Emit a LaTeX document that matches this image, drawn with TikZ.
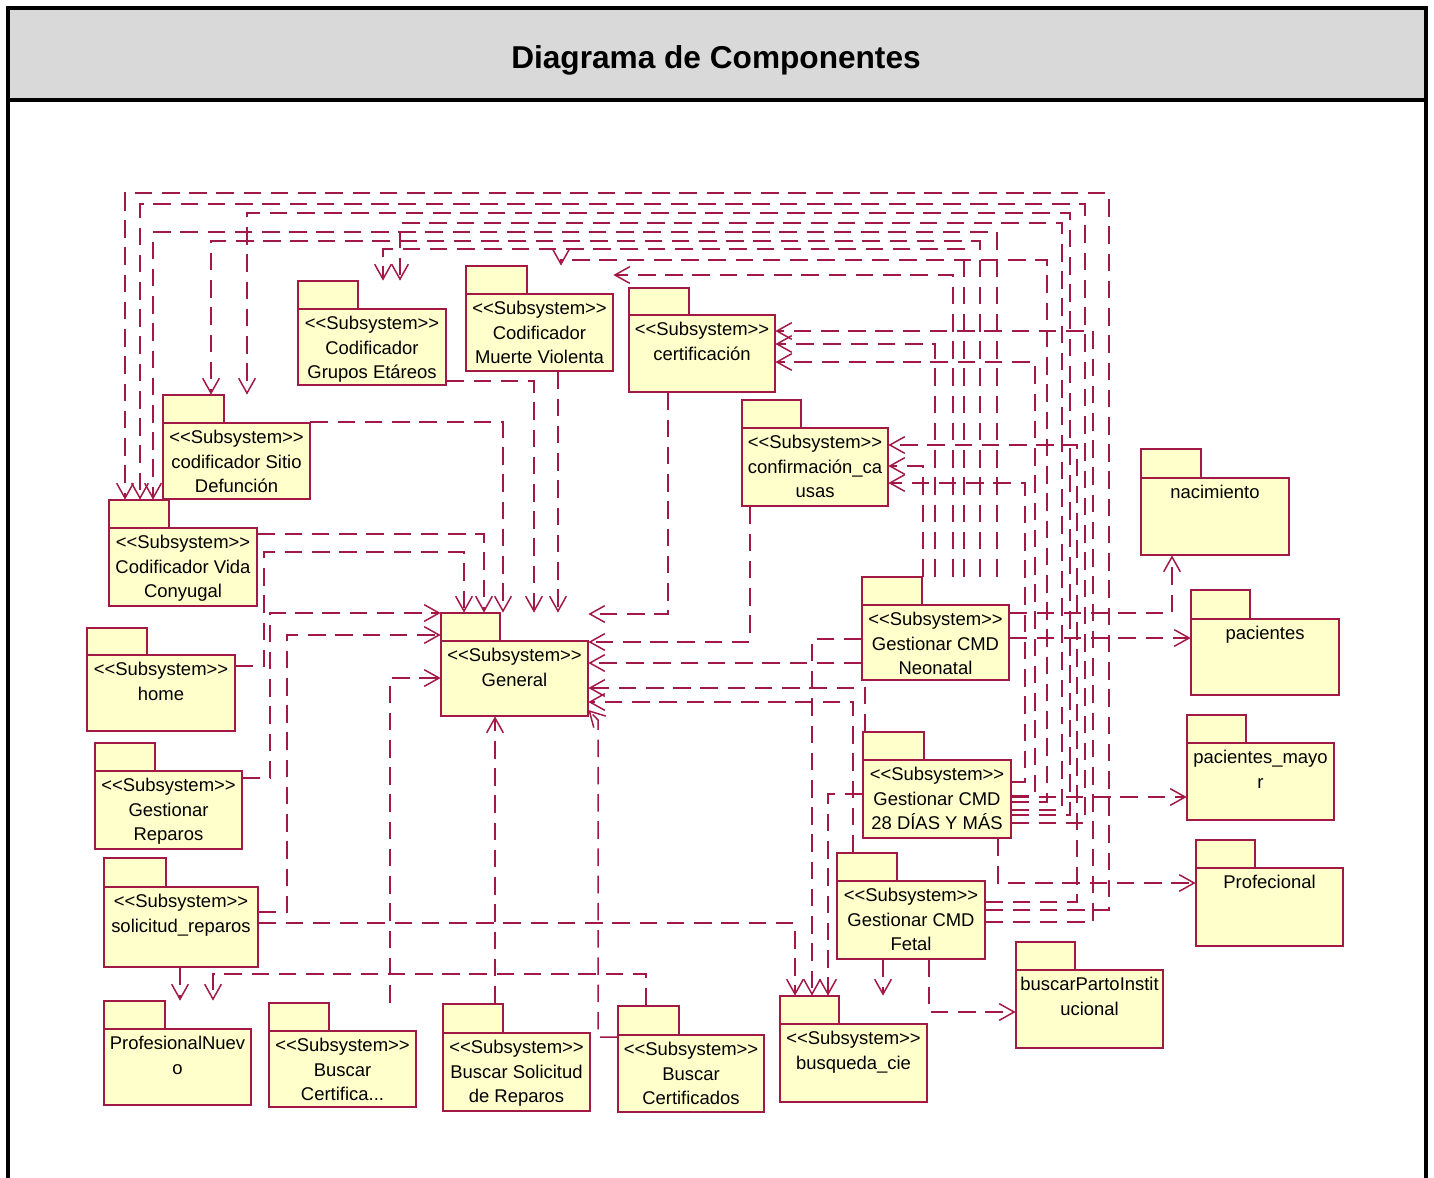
\documentclass[tikz,border=0pt]{standalone}
\usepackage{fontspec}
\setmainfont{Liberation Sans}[Ligatures=TeXOff]
\usetikzlibrary{arrows.meta,fit}
\definecolor{rline}{RGB}{163,25,70}
\definecolor{pfill}{RGB}{255,255,204}
\definecolor{hdr}{RGB}{217,217,217}
\newcommand\pkg[8]{%
  \node[fit={(#2,#3)(#6,#7)}, inner sep=0pt] (#1) {};
  \draw[pkline] (#2,#5) rectangle (#4,#3);
  \draw[pkline] (#2,#5) rectangle (#6,#7);
  \node[pktext] (#1-t) at ({(#2+#6)/2},#5) {#8};
}
\begin{document}
\begin{tikzpicture}[x=0.02cm,y=-0.02cm,
  pkline/.style={draw=rline, fill=pfill, line width=0.9pt},
  pktext/.style={anchor=north, align=center, inner xsep=0pt, inner ysep=4pt, font=\fontsize{10.5}{13.9}\selectfont, text=black},
  dep/.style={draw=rline, line width=0.85pt, dash pattern=on 10pt off 5.5pt, -{Straight Barb[length=8.5pt,width=9.5pt]}}]
\useasboundingbox (0,0) rectangle (1434,1177);
\fill[hdr] (8,8) rectangle (1426,100);
\draw[line width=1.8pt] (8,1200) -- (8,8) -- (1426,8) -- (1426,1200);
\draw[line width=1.8pt] (8,100) -- (1426,100);
\node[font=\fontsize{18}{20}\selectfont\bfseries] (title) at (716,60) {Diagrama de Componentes};

% packages
\pkg{gre}{298}{281}{358}{309}{446}{385}{<<Subsystem>>\\Codificador\\Grupos Etáreos}
\pkg{mv}{466}{266}{527}{294}{613}{371}{<<Subsystem>>\\Codificador\\Muerte Violenta}
\pkg{cert}{629}{288}{689}{315}{775}{392}{<<Subsystem>>\\certificación}
\pkg{conf}{742}{400}{801}{428}{888}{506}{<<Subsystem>>\\confirmación\_ca\\usas}
\pkg{sitio}{163}{395}{224}{423}{310}{499}{<<Subsystem>>\\codificador Sitio\\Defunción}
\pkg{vida}{109}{500}{169}{528}{257}{606}{<<Subsystem>>\\Codificador Vida\\Conyugal}
\pkg{home}{87}{628}{147}{655}{235}{731}{<<Subsystem>>\\home}
\pkg{grep}{95}{743}{155}{771}{242}{849}{<<Subsystem>>\\Gestionar\\Reparos}
\pkg{sol}{104}{858}{166}{887}{258}{967}{<<Subsystem>>\\solicitud\_reparos}
\pkg{prof}{104}{1001}{165}{1029}{251}{1105}{ProfesionalNuev\\o}
\pkg{bcert}{269}{1003}{329}{1031}{416}{1107}{<<Subsystem>>\\Buscar\\Certifica...}
\pkg{bsol}{443}{1004}{503}{1033}{590}{1111}{<<Subsystem>>\\Buscar Solicitud\\de Reparos}
\pkg{bcerts}{618}{1006}{679}{1035}{764}{1112}{<<Subsystem>>\\Buscar\\Certificados}
\pkg{bcie}{780}{996}{839}{1024}{927}{1102}{<<Subsystem>>\\busqueda\_cie}
\pkg{fetal}{837}{853}{897}{881}{985}{959}{<<Subsystem>>\\Gestionar CMD\\Fetal}
\pkg{parto}{1016}{942}{1075}{970}{1163}{1048}{buscarPartoInstit\\ucional}
\pkg{neo}{862}{577}{922}{605}{1009}{680}{<<Subsystem>>\\Gestionar CMD\\Neonatal}
\pkg{dcm}{863}{732}{924}{760}{1011}{838}{<<Subsystem>>\\Gestionar CMD\\28 DÍAS Y MÁS}
\pkg{nac}{1141}{449}{1201}{478}{1289}{555}{nacimiento}
\pkg{pac}{1191}{590}{1250}{619}{1339}{695}{pacientes}
\pkg{pacm}{1187}{715}{1246}{743}{1334}{820}{pacientes\_mayo\\r}
\pkg{profe}{1196}{840}{1255}{868}{1343}{946}{Profecional}
\pkg{gen}{441}{613}{500}{641}{588}{716}{<<Subsystem>>\\General}

% top bus
\draw[dep] (fetal.east |- 0,910) -- (1109,910) -- (1109,193) -- (125,193) -- (vida.north -| 125,0);
\draw[dep] (dcm.east |- 0,823) -- (1085,823) -- (1085,204) -- (140,204) -- (vida.north -| 140,0);
\draw[dep] (neo.north -| 997,0) -- (997,232) -- (153,232) -- (vida.north -| 153,0);
\draw[dep] (neo.north -| 980,0) -- (980,241) -- (211,241) -- (sitio.north -| 211,0);
\draw[dep] (dcm.east |- 0,815) -- (1070,815) -- (1070,213) -- (247,213) -- (sitio.north -| 247,0);
\draw[dep] (neo.north -| 964,0) -- (964,249) -- (383,249) -- (gre.north -| 383,0);
\draw[dep] (dcm.east |- 0,810) -- (1062,810) -- (1062,223) -- (400,223) -- (gre.north -| 400,0);
\draw[dep] (dcm.east |- 0,802) -- (1047,802) -- (1047,260) -- (561,260) -- (mv.north -| 561,0);
\draw[dep] (neo.north -| 953,0) -- (953,275) -- (mv.east |- 0,275);
\draw[dep] (fetal.east |- 0,922) -- (1093,922) -- (1093,331) -- (cert.east |- 0,331);
\draw[dep] (neo.north -| 935,0) -- (935,344) -- (cert.east |- 0,344);
\draw[dep] (dcm.east |- 0,796) -- (1035,796) -- (1035,362) -- (cert.east |- 0,362);
\draw[dep] (fetal.east |- 0,902) -- (1077,902) -- (1077,445) -- (conf.east |- 0,445);
\draw[dep] (neo.north -| 923,0) -- (923,466) -- (conf.east |- 0,466);
\draw[dep] (dcm.east |- 0,782) -- (1025,782) -- (1025,483) -- (conf.east |- 0,483);

% into General
\draw[dep] (home.east |- 0,666) -- (264,666) -- (264,552) -- (464,552) -- (gen.north -| 464,0);
\draw[dep] (vida.east |- 0,534) -- (484,534) -- (gen.north -| 484,0);
\draw[dep] (sitio.east |- 0,422) -- (503,422) -- (gen.north -| 503,0);
\draw[dep] (gre.east |- 0,381) -- (534,381) -- (gen.north -| 534,0);
\draw[dep] (mv.south -| 558,0) -- (gen.north -| 558,0);
\draw[dep] (grep.east |- 0,778) -- (270,778) -- (270,613) -- (gen.west |- 0,613);
\draw[dep] (sol.east |- 0,912) -- (287,912) -- (287,635) -- (gen.west |- 0,635);
\draw[dep] (bcert.north -| 390,0) -- (390,678) -- (gen.west |- 0,678);
\draw[dep] (bsol.north -| 495,0) -- (gen.south -| 495,0);
\draw[dep] (cert.south -| 668,0) -- (668,614) -- (gen.east |- 0,614);
\draw[dep] (conf.south -| 750,0) -- (750,642) -- (gen.east |- 0,642);
\draw[dep] (neo.west |- 0,663) -- (gen.east |- 0,663);
\draw[dep] (dcm.north -| 865,0) -- (865,688) -- (gen.east |- 0,688);
\draw[dep] (fetal.north -| 853,0) -- (853,702) -- (gen.east |- 0,702);
\draw[dep] (bcerts.west |- 0,1037) -- (598,1037) -- (598,720) -- (gen.east |- 0,710);

% into busqueda_cie and others
\draw[dep] (sol.east |- 0,923) -- (795,923) -- (bcie.north -| 795,0);
\draw[dep] (neo.west |- 0,639) -- (812,639) -- (bcie.north -| 812,0);
\draw[dep] (dcm.west |- 0,794) -- (828,794) -- (bcie.north -| 828,0);
\draw[dep] (fetal.south -| 883,0) -- (bcie.north -| 883,0);
\draw[dep] (fetal.south -| 929,0) -- (929,1012) -- (parto.west |- 0,1012);
\draw[dep] (sol.south -| 180,0) -- (prof.north -| 180,0);
\draw[dep] (bcerts.north -| 646,0) -- (646,974) -- (213,974) -- (prof.north -| 213,0);

% right side
\draw[dep] (neo.east |- 0,613) -- (1172,613) -- (nac.south -| 1172,0);
\draw[dep] (neo.east |- 0,638) -- (pac.west |- 0,638);
\draw[dep] (dcm.east |- 0,797) -- (pacm.west |- 0,797);
\draw[dep] (dcm.south -| 998,0) -- (998,883) -- (profe.west |- 0,883);
\end{tikzpicture}
\end{document}
